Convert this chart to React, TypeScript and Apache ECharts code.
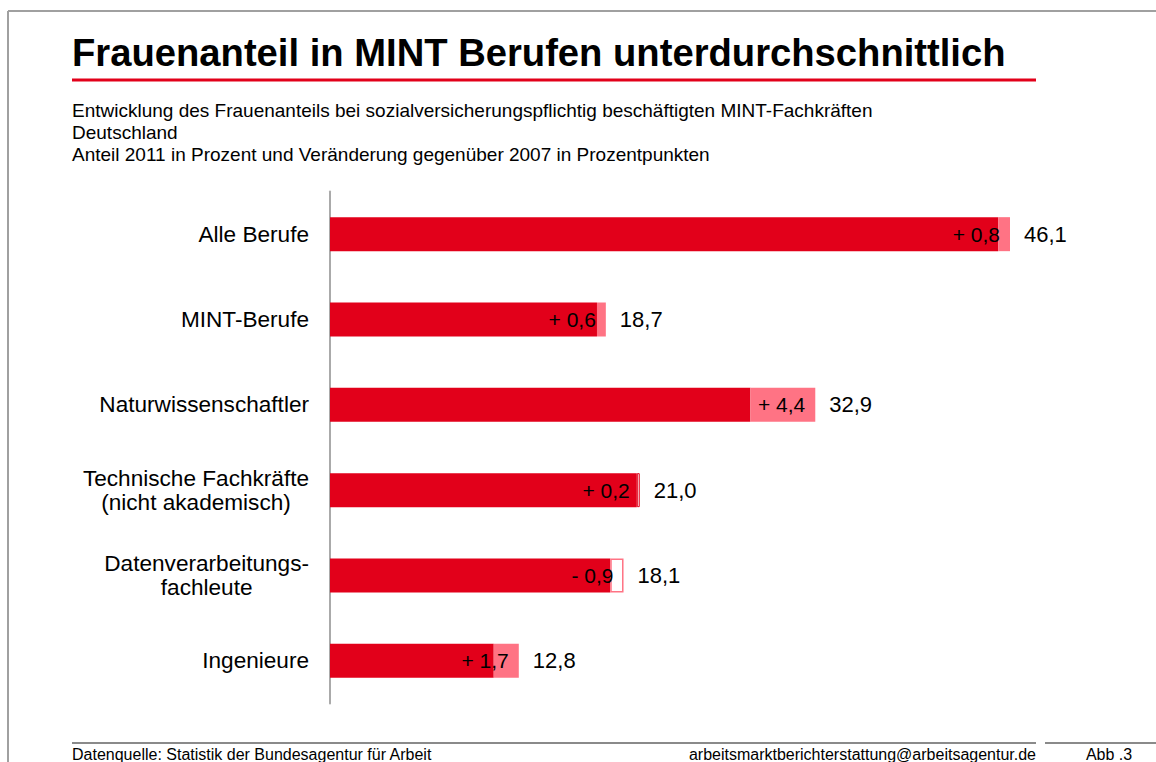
import React, { useEffect, useRef } from "react";
import * as echarts from "echarts";

const categories = [
  "Alle Berufe",
  "MINT-Berufe",
  "Naturwissenschaftler",
  "Technische Fachkräfte\n(nicht akademisch)",
  "Datenverarbeitungs-\nfachleute",
  "Ingenieure",
];
// Anteil 2011 in Prozent
const share2011 = [46.1, 18.7, 32.9, 21.0, 18.1, 12.8];
// Veränderung gegenüber 2007 in Prozentpunkten
const change2007 = [0.8, 0.6, 4.4, 0.2, -0.9, 1.7];

const titleText = "Frauenanteil in MINT Berufen unterdurchschnittlich";
const subtitleLines = [
  "Entwicklung des Frauenanteils bei sozialversicherungspflichtig beschäftigten MINT-Fachkräften",
  "Deutschland",
  "Anteil 2011 in Prozent und Veränderung gegenüber 2007 in Prozentpunkten",
];
const sourceText = "Datenquelle: Statistik der Bundesagentur für Arbeit";
const mailText = "arbeitsmarktberichterstattung@arbeitsagentur.de";
const figText = "Abb .3";

const FONT = '"Liberation Sans", Arial, sans-serif';
const DARK = "#e2001a";
const LIGHT = "#ff7384";

const fmt = (v: number) => v.toFixed(1).replace(".", ",");
const fmtChange = (v: number) => (v >= 0 ? "+ " : "- ") + fmt(Math.abs(v));

export default function App() {
  const ref = useRef<HTMLDivElement>(null);

  useEffect(() => {
    if (!ref.current) return;
    const chart = echarts.init(ref.current, null, { renderer: "svg" });

    const base = share2011.map((v, i) => Math.round((v - change2007[i]) * 10) / 10);
    const delta = change2007.map((c, i) => ({
      value: Math.abs(c),
      itemStyle:
        c < 0
          ? { color: "#ffffff", borderColor: LIGHT, borderWidth: 1.5 }
          : i === 3
          ? { color: "#ffe0e4", borderColor: DARK, borderWidth: 1 }
          : { color: LIGHT },
    }));
    const ends = share2011.map(() => 0);

    const option: any = {
      animation: false,
      backgroundColor: "#ffffff",
      textStyle: { fontFamily: FONT },
      grid: { left: 330, top: 191.5, height: 512, width: 737.5 },
      xAxis: {
        type: "value",
        min: 0,
        max: 50,
        show: false,
      },
      yAxis: {
        type: "category",
        inverse: true,
        data: categories,
        axisLine: { show: true, lineStyle: { color: "#aaaaaa", width: 2 } },
        axisTick: { show: false },
        splitLine: { show: false },
        axisLabel: {
          margin: 21,
          align: "right",
          formatter: (v: string) =>
            v
              .split("\n")
              .map((l) => `{c|${l}}`)
              .join("\n"),
          rich: {
            c: {
              align: "center",
              fontSize: 22.6,
              lineHeight: 24,
              color: "#000000",
              fontFamily: FONT,
            },
          },
        },
      },
      series: [
        {
          type: "bar",
          stack: "a",
          barWidth: 34,
          silent: true,
          itemStyle: { color: DARK },
          data: base,
        },
        {
          type: "bar",
          stack: "a",
          barWidth: 34,
          silent: true,
          data: delta,
          label: {
            show: true,
            position: "insideRight",
            distance: 10,
            color: "#000000",
            fontSize: 21,
            fontFamily: FONT,
            formatter: (p: any) => fmtChange(change2007[p.dataIndex]),
          },
        },
        {
          type: "bar",
          stack: "a",
          barWidth: 34,
          silent: true,
          itemStyle: { color: "transparent" },
          data: ends,
          label: {
            show: true,
            position: "right",
            distance: 14,
            color: "#000000",
            fontSize: 22,
            fontFamily: FONT,
            formatter: (p: any) => fmt(share2011[p.dataIndex]),
          },
        },
      ],
      graphic: [
        // frame
        { type: "line", shape: { x1: 8, y1: 11, x2: 1156, y2: 11 }, style: { stroke: "#a0a0a0", lineWidth: 2 }, silent: true },
        { type: "line", shape: { x1: 8, y1: 11, x2: 8, y2: 762 }, style: { stroke: "#a0a0a0", lineWidth: 2 }, silent: true },
        // title
        {
          type: "text",
          x: 72,
          y: 52,
          style: {
            text: titleText,
            font: `bold 38.2px ${FONT}`,
            fill: "#000000",
            verticalAlign: "middle",
          },
          silent: true,
        },
        { type: "line", shape: { x1: 72, y1: 80, x2: 1036, y2: 80 }, style: { stroke: DARK, lineWidth: 3 }, silent: true },
        ...subtitleLines.map((t, i) => ({
          type: "text",
          x: 72,
          y: [110.5, 132.5, 154][i],
          style: {
            text: t,
            font: `19px ${FONT}`,
            fill: "#000000",
            verticalAlign: "middle",
          },
          silent: true,
        })),
        // footer
        { type: "line", shape: { x1: 72, y1: 743, x2: 1036, y2: 743 }, style: { stroke: "#8a8a8a", lineWidth: 2 }, silent: true },
        { type: "line", shape: { x1: 1045, y1: 743, x2: 1156, y2: 743 }, style: { stroke: "#8a8a8a", lineWidth: 2 }, silent: true },
        {
          type: "text",
          x: 72,
          y: 754,
          style: { text: sourceText, font: `16px ${FONT}`, fill: "#000000", verticalAlign: "middle" },
          silent: true,
        },
        {
          type: "text",
          x: 1036,
          y: 754,
          style: { text: mailText, font: `16px ${FONT}`, fill: "#000000", align: "right", verticalAlign: "middle" },
          silent: true,
        },
        {
          type: "text",
          x: 1109,
          y: 754,
          style: { text: figText, font: `16px ${FONT}`, fill: "#000000", align: "center", verticalAlign: "middle" },
          silent: true,
        },
      ],
    };

    chart.setOption(option);
    return () => chart.dispose();
  }, []);

  return (
    <div
      ref={ref}
      style={{ position: "absolute", left: 0, top: 0, width: 1156, height: 762, background: "#fff" }}
    />
  );
}
